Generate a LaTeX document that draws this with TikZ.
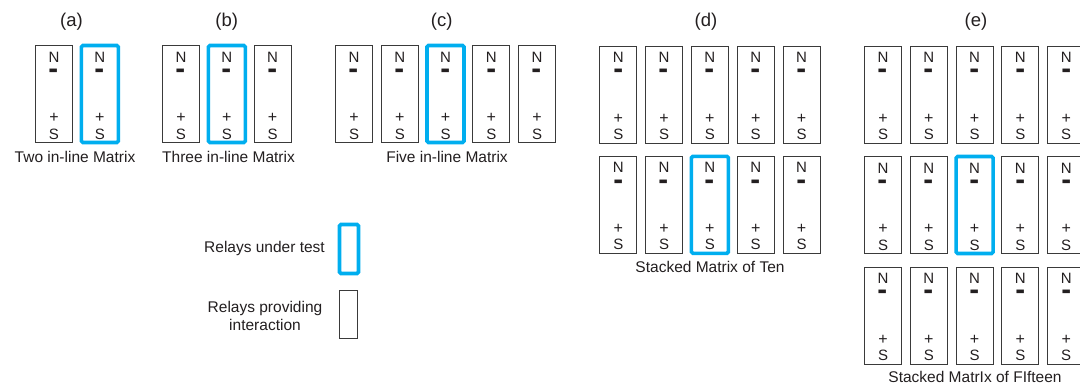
\documentclass[tikz,border=0pt]{standalone}
\usepackage{fontspec}
\setmainfont{Liberation Sans}
\definecolor{txt}{HTML}{231F20}
\definecolor{edge}{HTML}{3A3A3A}
\definecolor{tblue}{HTML}{00AEEF}
\tikzset{
  relaybox/.style={draw=edge, line width=0.9pt, minimum width=37pt, minimum height=97pt, inner sep=0pt, outer sep=0pt},
  testbox/.style={draw=tblue, line width=3.6pt, rounded corners=1.5pt, minimum width=37pt, minimum height=97pt, inner sep=0pt, outer sep=0pt},
  pole/.style={text=txt, font=\fontsize{15}{15}\selectfont, inner sep=0pt},
  plus/.style={text=txt, font=\fontsize{16}{16}\selectfont, inner sep=0pt},
  minus/.style={text=txt, font=\fontsize{15}{15}\selectfont\bfseries, inner sep=0pt},
  head/.style={text=txt, font=\fontsize{18.5}{20}\selectfont, inner sep=0pt},
  captxt/.style={text=txt, font=\fontsize{15.5}{18}\selectfont, inner sep=0pt},
  legbox/.style={draw=edge, line width=0.9pt, minimum width=18pt, minimum height=48pt, inner sep=0pt, outer sep=0pt},
  legtest/.style={draw=tblue, line width=3.6pt, rounded corners=1.5pt, minimum width=19pt, minimum height=49pt, inner sep=0pt, outer sep=0pt},
}
\newcommand\relay[4]{%
  \node[#4, anchor=north west] (#1) at (#2,#3) {};
  \node[pole] (#1N) at ([yshift=-11.5pt]#1.north) {N};
  \node[minus] (#1m) at ([yshift=-29pt]#1.north) {\scalebox{1.0}[2.4]{–}};
  \node[plus] (#1p) at ([yshift=-72.5pt]#1.north) {+};
  \node[pole] (#1S) at ([yshift=-88.5pt]#1.north) {S};
}
\begin{document}
\begin{tikzpicture}[x=1pt, y=-1pt]
\useasboundingbox (0,0) rectangle (1080,386);
\fill[white] (0,0) rectangle (1080,386);
% (a)
\node[head] (ha) at (71.5,21.5) {(a)};
\relay{a1}{35.5}{45.5}{relaybox}
\relay{a2}{81.3}{45.5}{testbox}
\node[captxt] (ca) at (75,156.5) {Two in-line Matrix};
% (b)
\node[head] (hb) at (226.7,21.5) {(b)};
\relay{b1}{162.5}{45.5}{relaybox}
\relay{b2}{208.3}{45.5}{testbox}
\relay{b3}{254}{45.5}{relaybox}
\node[captxt] (cb) at (228.5,156.5) {Three in-line Matrix};
% (c)
\node[head] (hc) at (441.7,21.5) {(c)};
\foreach \i/\x in {1/335.5,2/381.3,4/472.8,5/518.6}{\relay{c\i}{\x}{45.5}{relaybox}}
\relay{c3}{427}{45.5}{testbox}
\node[captxt] (cc) at (447,156.5) {Five in-line Matrix};
% (d)
\node[head] (hd) at (706,21.5) {(d)};
\foreach \i/\x in {1/599.8,2/645.6,3/691.4,4/737.2,5/783}{\relay{d1\i}{\x}{46}{relaybox}}
\foreach \i/\x in {1/599.8,2/645.6,4/737.2,5/783}{\relay{d2\i}{\x}{156.3}{relaybox}}
\relay{d23}{691.4}{156.3}{testbox}
\node[captxt] (cd) at (710,266.7) {Stacked Matrix of Ten};
% (e)
\node[head] (he) at (976,21.5) {(e)};
\foreach \i/\x in {1/864.5,2/910.3,3/956.1,4/1001.9,5/1047.7}{\relay{e1\i}{\x}{46}{relaybox}}
\foreach \i/\x in {1/864.5,2/910.3,4/1001.9,5/1047.7}{\relay{e2\i}{\x}{156.5}{relaybox}}
\relay{e23}{956.1}{156.5}{testbox}
\foreach \i/\x in {1/864.5,2/910.3,3/956.1,4/1001.9,5/1047.7}{\relay{e3\i}{\x}{267}{relaybox}}
\node[captxt] (ce) at (975,377) {Stacked MatrIx of FIfteen};
% legend
\node[legtest, anchor=north west] (lt) at (339.5,224.5) {};
\node[captxt] (ltt) at (264.5,248.3) {Relays under test};
\node[legbox, anchor=north west] (lb) at (339.8,290.8) {};
\node[captxt, align=center] (lbt) at (265,316) {Relays providing\\[-0.5pt]interaction};
\end{tikzpicture}
\end{document}
